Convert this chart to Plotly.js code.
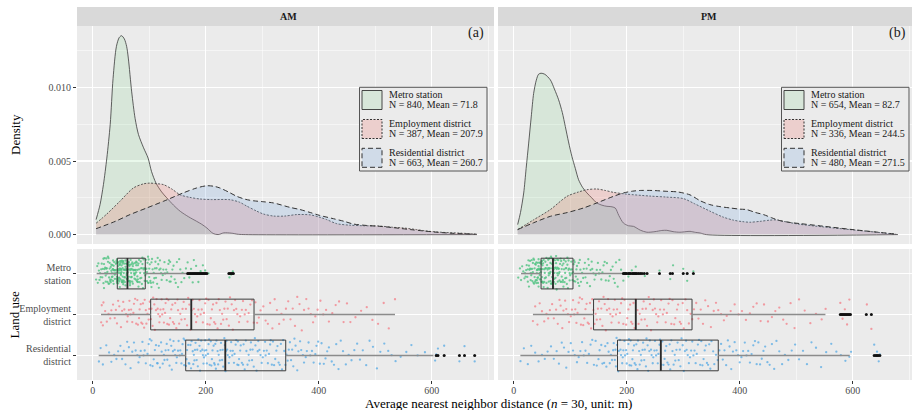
<!DOCTYPE html>
<html><head><meta charset="utf-8">
<script src="https://cdn.plot.ly/plotly-3.0.1.min.js"></script>
<style>html,body{margin:0;padding:0;overflow:hidden;background:#fff}#chart{width:917px;height:410px}</style>
</head><body><div id="chart"></div>
<script>
// ---------------- data ----------------
const landUse = ['Metro station', 'Employment district', 'Residential district'];
const landUseTick = ['Metro<br>station', 'Employment<br>district', 'Residential<br>district'];
const panels = ['AM', 'PM'];
const panelTags = ['(a)', '(b)'];
const xTickVals = [0, 200, 400, 600];

const amN = [840, 387, 663];
const amMean = [71.8, 207.9, 260.7];
const pmN = [654, 336, 480];
const pmMean = [82.7, 244.5, 271.5];

// density curves
const amMetroX = [6, 13, 19, 25, 31, 36, 42, 47, 51, 56, 60, 63, 69, 75, 81, 90, 98, 104, 112, 122, 131, 143, 155, 170, 184, 193, 202, 213, 222, 232, 245, 258, 270, 680];
const amMetroY = [0.00102, 0.00204, 0.0034, 0.0052, 0.0075, 0.0106, 0.0128, 0.0134, 0.01352, 0.0133, 0.0128, 0.0120, 0.0097, 0.0079, 0.0068, 0.0059, 0.0052, 0.0043, 0.0035, 0.0029, 0.0025, 0.0020, 0.00158, 0.0012, 0.0009, 0.0007, 0.00045, 0.00008, 0.0, 0.00012, 0.0001, 0.00002, 0, 0];
const amEmpX = [6, 25, 48, 72, 90, 101, 113, 125, 140, 155, 172, 190, 210, 243, 260, 272, 290, 302, 320, 340, 361, 385, 400, 414, 432, 455, 480, 508, 530, 550, 573, 591, 620, 650, 680];
const amEmpY = [0.00077, 0.0014, 0.00226, 0.00317, 0.00345, 0.0035, 0.00346, 0.0034, 0.0031, 0.0027, 0.00253, 0.00242, 0.00238, 0.00237, 0.0022, 0.00195, 0.0016, 0.0014, 0.00126, 0.00126, 0.00136, 0.00134, 0.0012, 0.00102, 0.00074, 0.00064, 0.0006, 0.00058, 0.0005, 0.00045, 0.00034, 0.00024, 0.00015, 0.0001, 0.00003];
const amResX = [6, 40, 66, 95, 125, 160, 184, 202, 215, 225, 240, 255, 270, 284, 300, 320, 349, 367, 385, 402, 426, 445, 461, 485, 508, 530, 562, 585, 609, 640, 677];
const amResY = [0.0004, 0.0009, 0.00136, 0.0018, 0.00226, 0.00283, 0.00317, 0.00332, 0.00328, 0.00317, 0.0029, 0.0026, 0.0024, 0.0023, 0.00224, 0.00215, 0.00185, 0.0017, 0.0015, 0.0013, 0.00108, 0.0009, 0.00072, 0.00062, 0.00056, 0.00048, 0.00034, 0.00025, 0.00016, 0.00008, 0.00003];

const pmMetroX = [7, 12, 17.7, 22, 26.5, 31, 35.3, 40, 44, 48.4, 55, 64.8, 72, 79.5, 86, 91.3, 97, 103, 109, 114.8, 122, 129.6, 138, 147, 156, 165, 172, 179.6, 186, 194, 203, 212, 224, 235.6, 250, 262, 271, 282, 294, 305, 312, 322, 330, 341, 680];
const pmMetroY = [0.00068, 0.0015, 0.00283, 0.0045, 0.00622, 0.008, 0.0096, 0.0105, 0.0109, 0.01097, 0.0109, 0.01052, 0.0099, 0.00916, 0.0083, 0.00735, 0.0063, 0.00531, 0.0045, 0.00373, 0.0032, 0.00283, 0.0025, 0.00215, 0.002, 0.00192, 0.0019, 0.00181, 0.0013, 0.00079, 0.0006, 0.00056, 0.0003, 0.00016, 0.0002, 0.00028, 0.00029, 0.0002, 0.00016, 0.0002, 0.00022, 0.00015, 0.00011, 0, 0];
const pmEmpX = [7, 35, 64.8, 94.3, 115, 129.6, 147, 162, 176.6, 200, 241, 270, 300, 320, 347, 370, 389, 405, 418, 436, 453, 465, 480, 506, 548, 595, 642, 677];
const pmEmpY = [0.00034, 0.001, 0.0017, 0.0026, 0.0029, 0.00305, 0.0031, 0.003, 0.00287, 0.00275, 0.00262, 0.00255, 0.00245, 0.0021, 0.0016, 0.0012, 0.00098, 0.00088, 0.00084, 0.0009, 0.00098, 0.001, 0.00088, 0.0007, 0.00052, 0.00034, 0.00016, 0.00002];
const pmResX = [7, 35, 64.8, 95, 123.6, 147, 176.6, 194, 210, 224, 245, 271, 290, 312, 330, 347, 365, 383, 400, 412, 428, 442, 456, 471, 490, 506, 548, 595, 642, 677];
const pmResY = [0.00034, 0.0008, 0.00124, 0.0015, 0.00181, 0.00215, 0.0026, 0.00283, 0.00295, 0.003, 0.003, 0.00294, 0.0029, 0.0027, 0.0023, 0.00204, 0.0019, 0.00181, 0.00173, 0.0017, 0.0015, 0.00136, 0.00115, 0.00095, 0.00082, 0.00075, 0.00057, 0.00036, 0.00017, 0.00003];

// box statistics
const amQ1 = [43.5, 102.6, 164.6];
const amMed = [61.5, 174.5, 234.7];
const amQ3 = [93, 285.5, 341.6];
const amLo = [7, 14.7, 10.6];
const amHi = [166, 535, 603];
const pmQ1 = [48.4, 141.3, 183.7];
const pmMed = [69.5, 216, 260.3];
const pmQ3 = [104.9, 315.6, 362];
const pmLo = [13, 34, 11.8];
const pmHi = [191.4, 551.7, 594.7];

// outliers
const amOutMetro = [168, 170, 172, 174, 176, 178, 180, 182, 184, 186, 188, 190, 192, 194, 196, 198, 200, 202, 241, 243, 245, 247, 249];
const amOutEmp = [];
const amOutRes = [608, 611, 622, 649, 658, 676];
const pmOutMetro = [194, 196, 198, 200, 203, 205, 207, 210, 212, 214, 216, 218, 221, 224, 227, 231, 236, 258, 277, 281, 300, 307, 318];
const pmOutEmp = [578, 580, 582, 584, 586, 588, 590, 592, 594, 596, 624, 633];
const pmOutRes = [638, 641, 643, 645, 648];

// sampled observations (estimated from the point clouds)
const amMetroPts = [6,8,9,10,11,12,13,14,15,16,17,18,19,19,
20,20,21,21,22,22,23,23,24,24,25,25,26,26,27,27,28,28,29,29,30,30,31,31,32,32,33,33,33,34,34,35,35,35,36,36,36,37,37,37,38,38,38,39,39,39,
41,41,41,42,42,42,42,43,43,43,43,44,44,44,44,45,45,45,45,46,46,46,46,47,47,47,47,48,48,48,48,49,49,49,49,50,50,50,50,51,51,51,51,52,52,52,52,53,53,53,53,54,54,54,54,55,55,55,56,56,56,57,57,57,58,58,58,59,59,59,60,60,60,
61,61,61,62,62,62,63,63,63,64,64,64,65,65,65,66,66,66,67,67,67,68,68,68,69,69,70,70,70,71,71,72,72,73,73,74,74,75,75,75,76,76,77,77,77,78,78,79,79,79,80,80,80,
81,81,82,82,83,84,84,85,85,86,87,87,88,88,89,90,90,91,91,92,93,93,94,95,95,96,96,97,98,98,99,99,100,100,
101,102,103,104,104,105,106,107,108,109,110,111,112,113,114,115,116,117,118,119,120,
121,122,124,125,127,128,130,131,132,134,135,136,137,138,139,
141,143,145,147,149,151,153,155,157,159,162,165,168,171,174,177,179,183,187,191,195,199,205,242,245,248];
const amEmpPts = [15,16,18,19,22,25,28,31,33,36,39,41,43,45,47,50,52,54,56,59,61,62,64,65,67,68,70,72,73,75,77,79,
80,82,83,85,86,88,89,91,92,94,95,97,99,100,101,103,104,106,107,109,110,112,113,115,116,118,119,
120,122,123,125,126,128,129,131,132,134,135,137,139,141,142,144,146,148,150,151,153,155,157,159,
161,163,165,167,169,171,173,175,177,179,181,183,185,187,189,191,193,195,197,199,
201,203,205,207,209,211,213,215,217,219,221,223,225,227,229,231,233,235,237,239,
241,243,246,248,250,252,254,256,259,261,264,266,269,271,274,276,279,282,285,288,291,294,297,
302,306,310,314,318,322,326,330,334,338,342,346,350,354,358,362,366,370,374,378,382,386,390,394,398,
403,408,413,418,424,430,436,444,450,456,465,475,485,495,505,515,524,535];
const amResPts = [11,14,18,24,29,33,38,42,45,49,52,55,58,61,64,67,70,73,76,79,81,83,85,88,90,92,94,97,99,
101,102,104,106,108,110,112,114,115,117,119,121,122,124,126,127,129,131,132,134,136,137,139,
140,142,143,145,146,148,149,151,152,154,155,157,158,159,161,162,163,165,166,167,169,170,171,173,174,175,177,178,179,
180,181,182,184,185,186,187,189,190,191,192,194,195,196,197,198,199,200,201,202,204,205,206,207,209,210,211,212,214,215,216,217,218,219,
221,222,223,225,226,227,229,230,231,233,234,235,236,237,238,239,241,242,244,245,247,248,250,251,253,254,256,257,258,259,
261,262,264,266,267,269,271,272,274,276,277,279,280,282,283,285,287,288,290,292,293,295,297,299,
301,303,305,306,308,310,312,314,315,317,319,321,323,325,327,329,331,333,335,337,339,341,343,345,347,349,351,353,355,357,359,
362,364,367,369,372,374,377,379,382,385,388,391,394,396,399,402,405,409,412,415,418,423,427,431,435,439,443,448,453,458,
463,468,473,478,484,490,496,503,509,516,523,529,536,545,555,564,575,588,606,608,611,622,649,658,676];
const pmMetroPts = [8,11,13,15,17,19,
20,21,22,23,24,25,25,26,27,27,28,29,29,30,30,31,31,32,32,33,33,34,34,35,35,36,36,37,37,38,38,39,39,
40,40,41,41,41,42,42,42,43,43,43,44,44,44,45,45,45,46,46,46,47,47,47,48,48,48,49,49,49,50,50,50,51,51,51,52,52,53,53,54,54,55,55,56,56,57,57,58,58,59,
60,60,61,61,62,62,62,63,63,64,64,65,65,65,66,66,67,67,68,68,68,69,69,70,70,71,71,71,72,72,73,73,74,74,74,75,75,76,76,77,77,77,78,78,79,79,
80,80,81,81,82,83,83,84,84,85,85,86,87,87,88,88,89,89,90,91,91,92,92,93,93,94,95,95,96,97,97,98,99,99,100,
101,102,103,103,104,105,106,107,107,108,109,110,111,112,113,114,115,116,117,118,119,
121,123,124,126,127,129,130,132,133,135,136,138,139,141,143,145,147,149,151,153,155,157,159,
161,163,165,168,170,172,175,177,179,181,184,187,190,194,198,203,209,216,232,258,277,282,300,307,318];
const pmEmpPts = [34,38,42,46,50,54,58,61,64,68,71,75,78,81,83,86,88,91,93,96,98,
101,103,105,107,109,111,113,115,117,119,121,123,125,127,129,131,133,135,137,139,141,143,145,147,149,151,153,155,157,159,
161,163,165,167,169,171,173,175,177,179,181,183,186,188,190,192,194,196,199,201,203,206,208,210,212,214,216,219,
221,223,226,228,230,232,234,236,239,241,243,246,248,250,252,254,256,259,261,264,266,269,271,274,276,279,
281,284,286,289,291,294,296,299,301,304,307,310,313,316,319,323,327,331,335,339,344,349,354,358,362,367,372,377,
384,391,398,404,411,418,424,430,437,443,450,457,463,470,477,483,490,497,505,515,525,535,545,552,578,582,586,590,594,625,633];
const pmResPts = [12,18,25,31,38,44,50,55,60,66,71,76,80,85,89,93,97,101,105,108,112,115,118,121,124,127,130,133,136,139,
142,145,147,150,152,155,157,160,162,164,166,168,170,172,174,176,177,179,180,181,182,183,
185,186,188,189,190,192,193,194,196,197,199,200,201,203,204,205,207,208,210,211,213,214,216,217,219,220,222,223,225,226,228,229,231,232,234,235,237,238,240,241,243,244,246,247,249,250,252,253,255,256,258,259,
261,263,265,267,268,270,272,274,276,277,279,281,283,285,286,288,290,292,294,295,297,299,301,303,305,306,308,310,312,314,316,318,320,322,324,326,328,330,332,334,336,338,340,342,344,346,348,350,353,355,358,361,
364,367,370,373,376,379,382,385,388,391,394,397,400,403,406,409,412,415,418,421,424,427,430,433,436,439,442,445,449,453,457,461,465,470,475,480,486,492,498,505,512,519,527,535,544,553,562,571,579,587,594,597,638,640,643,646,648];

// ---------------- geometry / style ----------------
const W = 917, H = 410, ML = 77, MR = 2, MT = 26, MB = 30;
const PW = W - ML - MR, PH = H - MT - MB;
const px = p => (p - ML) / PW;
const py = p => (H - MB - p) / PH;
const FONT = 'Liberation Serif, "Times New Roman", serif';
const fills = ['rgba(70,200,90,0.12)', 'rgba(240,125,115,0.25)', 'rgba(115,165,225,0.22)'];
const dashes = ['solid', '2px,1.5px', '5px,3px'];
const lineCols = ['#3a3a3a', '#4a4a4a', '#333333'];
const lineW = [0.8, 0.9, 1.0];
const ptCols = ['rgba(80,195,130,0.8)', 'rgba(243,125,135,0.75)', 'rgba(85,170,228,0.75)'];
const CHUNK = 37;

const traces = [];
const dens = [
  [[amMetroX, amMetroY], [amEmpX, amEmpY], [amResX, amResY]],
  [[pmMetroX, pmMetroY], [pmEmpX, pmEmpY], [pmResX, pmResY]]
];
const pts = [[amMetroPts, amEmpPts, amResPts], [pmMetroPts, pmEmpPts, pmResPts]];
const stats = [
  {q1: amQ1, med: amMed, q3: amQ3, lo: amLo, hi: amHi, out: [amOutMetro, amOutEmp, amOutRes]},
  {q1: pmQ1, med: pmMed, q3: pmQ3, lo: pmLo, hi: pmHi, out: [pmOutMetro, pmOutEmp, pmOutRes]}
];
const axX = ['x', 'x2'], axYd = ['y', 'y2'], axYb = ['y3', 'y4'];

for (let p = 0; p < 2; p++) {
  // density
  for (let g = 0; g < 3; g++) {
    traces.push({type: 'scatter', mode: 'lines', x: dens[p][g][0], y: dens[p][g][1],
      xaxis: axX[p], yaxis: axYd[p], fill: 'tozeroy', fillcolor: fills[g],
      line: {color: lineCols[g], width: lineW[g], dash: dashes[g], shape: 'spline', smoothing: 0.8},
      hoverinfo: 'skip', showlegend: false});
  }
  // jittered points (split into runs so the library's jitter stays even along x)
  for (let g = 0; g < 3; g++) {
    const sorted = pts[p][g].slice().sort((a, b) => a - b);
    for (let c = 0; c < sorted.length; c += CHUNK) {
      const part = sorted.slice(c, c + CHUNK);
      traces.push({type: 'box', orientation: 'h', x: part, y: part.map(() => g),
        xaxis: axX[p], yaxis: axYb[p], boxpoints: 'all', jitter: 1, pointpos: 0, width: 0.88,
        marker: {color: ptCols[g], size: 2.3, line: {width: 0}}, line: {width: 0, color: 'rgba(0,0,0,0)'},
        fillcolor: 'rgba(0,0,0,0)', hoverinfo: 'skip', showlegend: false});
    }
  }
  const s = stats[p];
  // whiskers
  const wx = [], wy = [];
  for (let g = 0; g < 3; g++) {
    wx.push(s.lo[g], s.q1[g], null, s.q3[g], s.hi[g], null);
    wy.push(g, g, null, g, g, null);
  }
  traces.push({type: 'scatter', mode: 'lines', x: wx, y: wy, xaxis: axX[p], yaxis: axYb[p],
    line: {color: '#8c8c8c', width: 1.5}, hoverinfo: 'skip', showlegend: false});
  // boxes
  traces.push({type: 'box', orientation: 'h', y: [0, 1, 2], q1: s.q1, median: s.med, q3: s.q3,
    lowerfence: s.q1, upperfence: s.q3, boxpoints: false, width: 0.75, whiskerwidth: 0,
    xaxis: axX[p], yaxis: axYb[p], line: {color: '#3a3a3a', width: 1}, fillcolor: 'rgba(0,0,0,0)',
    hoverinfo: 'skip', showlegend: false});
  // medians (thicker)
  const mx = [], my = [];
  for (let g = 0; g < 3; g++) { mx.push(s.med[g], s.med[g], null); my.push(g - 0.375, g + 0.375, null); }
  traces.push({type: 'scatter', mode: 'lines', x: mx, y: my, xaxis: axX[p], yaxis: axYb[p],
    line: {color: '#2a2a2a', width: 1.8}, hoverinfo: 'skip', showlegend: false});
  // outliers
  const ox = [], oy = [];
  for (let g = 0; g < 3; g++) { s.out[g].forEach(v => { ox.push(v); oy.push(g); }); }
  traces.push({type: 'scatter', mode: 'markers', x: ox, y: oy, xaxis: axX[p], yaxis: axYb[p],
    marker: {color: '#111', size: 3}, hoverinfo: 'skip', showlegend: false});
}

const tickFont = {family: FONT, size: 10, color: '#4d4d4d'};
const xBase = {range: [-27.8, 710.2], tickmode: 'array', tickvals: xTickVals, ticks: 'outside', ticklen: 3,
  ticklabelstandoff: -2,
  tickcolor: '#333', tickfont: tickFont, showgrid: true, gridcolor: '#ffffff', gridwidth: 1.1,
  minor: {dtick: 100, tick0: 0, showgrid: true, gridcolor: '#ffffff', gridwidth: 0.5, ticks: ''},
  zeroline: false, showline: false, fixedrange: true};
const yDens = {domain: [py(244), 1], range: [-0.00064, 0.01418], tick0: 0, dtick: 0.005, tickformat: '.3f',
  ticks: 'outside', ticklen: 3, tickcolor: '#333', tickfont: tickFont, showgrid: true, gridcolor: '#ffffff',
  gridwidth: 1.1, minor: {dtick: 0.0025, tick0: 0, showgrid: true, gridcolor: '#ffffff', gridwidth: 0.5, ticks: ''},
  zeroline: false, showline: false, fixedrange: true};
const yBox = {domain: [0, py(249)], range: [2.6, -0.6], tickmode: 'array', tickvals: [0, 1, 2], ticktext: landUseTick,
  ticks: 'outside', ticklen: 3, tickcolor: '#333', tickfont: tickFont, showgrid: true, gridcolor: '#ffffff',
  gridwidth: 1.1, zeroline: false, showline: false, fixedrange: true};

const xDomAM = [0, px(494)], xDomPM = [px(498), 1];
const shapes = [];
const annotations = [];
// strips
[xDomAM, xDomPM].forEach((d, i) => {
  shapes.push({type: 'rect', xref: 'paper', yref: 'paper', x0: d[0], x1: d[1], y0: 1, y1: 1 + 19 / PH,
    fillcolor: '#d9d9d9', line: {width: 0}, layer: 'below'});
});
annotations.push({xref: 'paper', yref: 'paper', x: px(288), y: py(16.5), text: '<b>' + panels[0] + '</b>', showarrow: false,
  font: {family: FONT, size: 10, color: '#1a1a1a'}, xanchor: 'center', yanchor: 'middle'});
annotations.push({xref: 'paper', yref: 'paper', x: px(709), y: py(16.5), text: '<b>' + panels[1] + '</b>', showarrow: false,
  font: {family: FONT, size: 10, color: '#1a1a1a'}, xanchor: 'center', yanchor: 'middle'});
// panel tags
annotations.push({xref: 'paper', yref: 'paper', x: px(486), y: py(33), text: panelTags[0], showarrow: false,
  font: {family: FONT, size: 14, color: '#1a1a1a'}, xanchor: 'right', yanchor: 'middle'});
annotations.push({xref: 'paper', yref: 'paper', x: px(908), y: py(33), text: panelTags[1], showarrow: false,
  font: {family: FONT, size: 14, color: '#1a1a1a'}, xanchor: 'right', yanchor: 'middle'});
// axis titles
annotations.push({xref: 'paper', yref: 'paper', x: px(15), y: py(135), text: 'Density', textangle: -90, showarrow: false,
  font: {family: FONT, size: 13, color: '#000'}, xanchor: 'center', yanchor: 'middle'});
annotations.push({xref: 'paper', yref: 'paper', x: px(14), y: py(314.5), text: 'Land use', textangle: -90, showarrow: false,
  font: {family: FONT, size: 13, color: '#000'}, xanchor: 'center', yanchor: 'middle'});
annotations.push({xref: 'paper', yref: 'paper', x: px(498), y: py(403.5), text: 'Average nearest neighbor distance (<i>n</i> = 30, unit: m)',
  showarrow: false, font: {family: FONT, size: 13, color: '#000'}, xanchor: 'center', yanchor: 'middle'});

// legends
function legend(left, Ns, means) {
  const w = 127.5, top = 87.3, bottom = 171;
  shapes.push({type: 'rect', xref: 'paper', yref: 'paper', x0: px(left), x1: px(left + w), y0: py(bottom), y1: py(top),
    fillcolor: '#ebebeb', line: {color: '#555', width: 1}});
  const tops = [90.5, 119.5, 148.3];
  for (let g = 0; g < 3; g++) {
    shapes.push({type: 'rect', xref: 'paper', yref: 'paper', x0: px(left + 2.5), x1: px(left + 22.5),
      y0: py(tops[g] + 19), y1: py(tops[g]), fillcolor: fills[g],
      line: {color: '#333', width: g === 0 ? 0.9 : 1, dash: dashes[g]}});
    annotations.push({xref: 'paper', yref: 'paper', x: px(left + 27), y: py(tops[g] + 4.2), text: landUse[g],
      showarrow: false, font: {family: FONT, size: 10, color: '#1a1a1a'}, xanchor: 'left', yanchor: 'middle'});
    annotations.push({xref: 'paper', yref: 'paper', x: px(left + 27), y: py(tops[g] + 14.2),
      text: 'N = ' + Ns[g] + ', Mean = ' + means[g].toFixed(1),
      showarrow: false, font: {family: FONT, size: 10, color: '#1a1a1a'}, xanchor: 'left', yanchor: 'middle'});
  }
}
legend(359.5, amN, amMean);
legend(781.5, pmN, pmMean);

const layout = {
  width: W, height: H, margin: {l: ML, r: MR, t: MT, b: MB, pad: 0},
  paper_bgcolor: '#ffffff', plot_bgcolor: '#ebebeb', showlegend: false,
  font: {family: FONT, size: 10, color: '#1a1a1a'},
  boxmode: 'overlay',
  xaxis: Object.assign({}, xBase, {domain: xDomAM, anchor: 'y3'}),
  xaxis2: Object.assign({}, xBase, {domain: xDomPM, anchor: 'y4'}),
  yaxis: Object.assign({}, yDens, {anchor: 'x'}),
  yaxis2: Object.assign({}, yDens, {anchor: 'x2', showticklabels: false, ticks: ''}),
  yaxis3: Object.assign({}, yBox, {anchor: 'x'}),
  yaxis4: Object.assign({}, yBox, {anchor: 'x2', showticklabels: false, ticks: ''}),
  shapes: shapes, annotations: annotations
};

Plotly.newPlot('chart', traces, layout, {displayModeBar: false, staticPlot: true});
</script>
</body></html>
